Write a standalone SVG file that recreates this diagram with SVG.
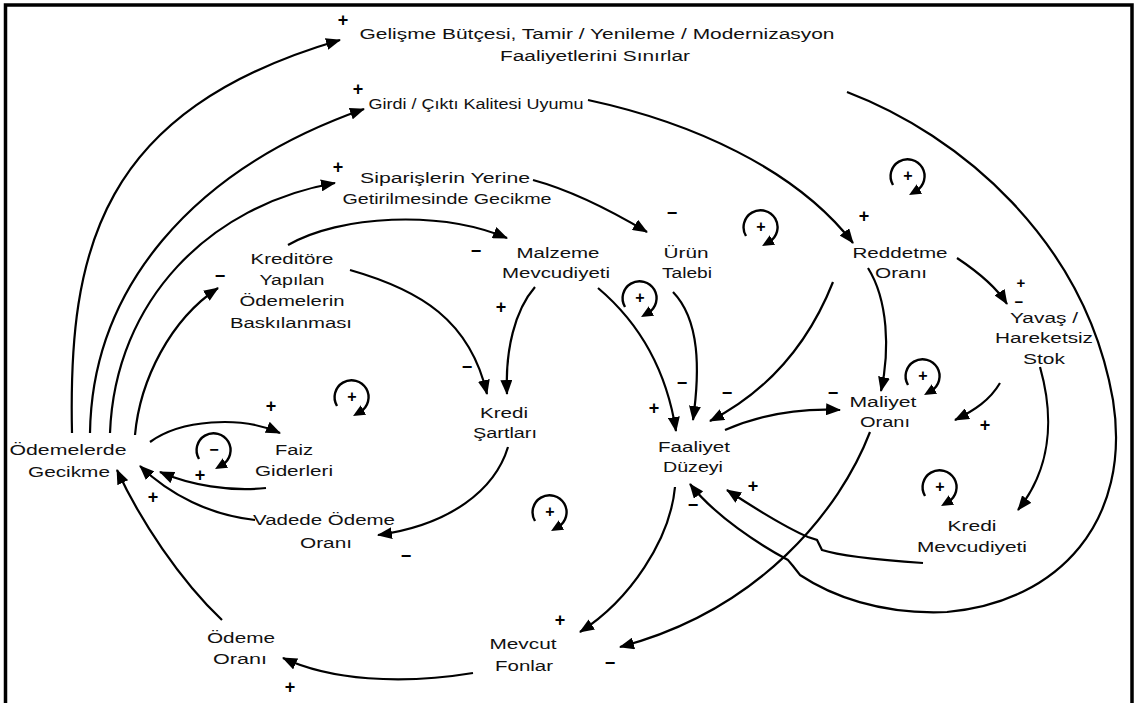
<svg xmlns="http://www.w3.org/2000/svg" xmlns:xlink="http://www.w3.org/1999/xlink" width="1136" height="703" viewBox="0 0 1136 703">
<defs>
<style>
.t{font-family:"Liberation Sans",Arial,sans-serif;font-size:15.5px;fill:#111;text-anchor:middle}
.s{font-family:"Liberation Sans",Arial,sans-serif;font-size:18px;font-weight:bold;fill:#000;text-anchor:middle}
.s2{font-family:"Liberation Sans",Arial,sans-serif;font-size:15px;font-weight:bold;fill:#000;text-anchor:middle}
.ls{font-family:"Liberation Sans",Arial,sans-serif;font-size:16px;font-weight:bold;fill:#000;text-anchor:middle}
.c{fill:none;stroke:#000;stroke-width:2.2;marker-end:url(#ah)}
.la{fill:none;stroke:#000;stroke-width:2.4;marker-end:url(#ahs)}
</style>
<marker id="ah" viewBox="0 0 15 12" refX="14" refY="6" markerWidth="15" markerHeight="12" markerUnits="userSpaceOnUse" orient="auto">
<path d="M0,0 L15,6 L0,12 z" fill="#000"/>
</marker>
<marker id="ahs" viewBox="0 0 12 11" refX="4" refY="5.5" markerWidth="12" markerHeight="11" markerUnits="userSpaceOnUse" orient="auto">
<path d="M0,0 L12,5.5 L0,11 z" fill="#000"/>
</marker>
<path id="loopArc" class="la" d="M-15,9 A17,17 0 1 1 8,15"/>
</defs>
<rect x="0" y="0" width="1136" height="703" fill="#fff"/>
<rect x="5.5" y="5" width="1126.5" height="720" fill="none" stroke="#000" stroke-width="3.5"/>

<g id="connectors">
<path class="c" d="M72,433 C68,250 100,110 340,40"/>
<path class="c" d="M90,433 C92,290 190,170 364,109"/>
<path class="c" d="M110,433 C115,300 210,205 335,183"/>
<path class="c" d="M135,435 C140,380 170,320 218,288"/>
<path class="c" d="M288,245 C340,215 440,210 507,238"/>
<path class="c" d="M533,180 C570,190 610,210 647,232"/>
<path class="c" d="M588,100 C690,122 795,168 853,243"/>
<path class="c" d="M847,92 C960,135 1085,240 1113,400 C1132,520 1060,602 947,612 C880,615 830,595 800,575 L793,566 L788,560 C760,545 715,516 690,484"/>
<path class="c" d="M923,563 C880,560 840,556 822,550 L817,540 L808,537 C780,525 750,505 727,490"/>
<path class="c" d="M833,282 C810,340 770,390 710,421"/>
<path class="c" d="M868,268 C888,300 890,350 881,391"/>
<path class="c" d="M957,258 C975,270 995,285 1007,304"/>
<path class="c" d="M1040,367 C1055,420 1050,470 1018,510"/>
<path class="c" d="M1000,383 C990,400 975,410 955,420"/>
<path class="c" d="M725,430 C760,415 800,408 840,410"/>
<path class="c" d="M535,287 C515,310 505,350 507,394"/>
<path class="c" d="M350,270 C420,290 470,320 487,394"/>
<path class="c" d="M598,288 C630,315 665,360 676,431"/>
<path class="c" d="M673,292 C700,320 700,370 693,420"/>
<path class="c" d="M150,442 C180,420 240,415 280,433"/>
<path class="c" d="M266,488 C230,492 190,485 160,472"/>
<path class="c" d="M255,520 C210,515 170,495 140,466"/>
<path class="c" d="M508,447 C495,490 450,525 378,535"/>
<path class="c" d="M222,620 C180,580 140,520 117,470"/>
<path class="c" d="M675,487 C670,540 630,600 580,632"/>
<path class="c" d="M473,673 C400,685 330,680 283,658"/>
<path class="c" d="M870,432 C840,510 760,610 620,647"/>
</g>

<g id="n-gelisme">
<text class="t" x="597" y="39" textLength="475" lengthAdjust="spacingAndGlyphs">Gelişme Bütçesi, Tamir / Yenileme / Modernizasyon</text>
<text class="t" x="595" y="61" textLength="190" lengthAdjust="spacingAndGlyphs">Faaliyetlerini Sınırlar</text>
</g>
<g id="n-girdi">
<text class="t" x="476" y="109" textLength="215" lengthAdjust="spacingAndGlyphs">Girdi / Çıktı Kalitesi Uyumu</text>
</g>
<g id="n-siparis">
<text class="t" x="445" y="183" textLength="170" lengthAdjust="spacingAndGlyphs">Siparişlerin Yerine</text>
<text class="t" x="447" y="204" textLength="209" lengthAdjust="spacingAndGlyphs">Getirilmesinde Gecikme</text>
</g>
<g id="n-kreditore">
<text class="t" x="292" y="264" textLength="83" lengthAdjust="spacingAndGlyphs">Kreditöre</text>
<text class="t" x="292" y="285" textLength="65" lengthAdjust="spacingAndGlyphs">Yapılan</text>
<text class="t" x="292" y="306" textLength="105" lengthAdjust="spacingAndGlyphs">Ödemelerin</text>
<text class="t" x="291" y="328" textLength="122" lengthAdjust="spacingAndGlyphs">Baskılanması</text>
</g>
<g id="n-malzeme">
<text class="t" x="558" y="258" textLength="83" lengthAdjust="spacingAndGlyphs">Malzeme</text>
<text class="t" x="556" y="278" textLength="108" lengthAdjust="spacingAndGlyphs">Mevcudiyeti</text>
</g>
<g id="n-urun">
<text class="t" x="686" y="258" textLength="45" lengthAdjust="spacingAndGlyphs">Ürün</text>
<text class="t" x="687" y="278" textLength="50" lengthAdjust="spacingAndGlyphs">Talebi</text>
</g>
<g id="n-reddetme">
<text class="t" x="900" y="258" textLength="95" lengthAdjust="spacingAndGlyphs">Reddetme</text>
<text class="t" x="901" y="278" textLength="52" lengthAdjust="spacingAndGlyphs">Oranı</text>
</g>
<g id="n-yavas">
<text class="t" x="1044" y="323" textLength="68" lengthAdjust="spacingAndGlyphs">Yavaş /</text>
<text class="t" x="1044" y="343" textLength="98" lengthAdjust="spacingAndGlyphs">Hareketsiz</text>
<text class="t" x="1044" y="364" textLength="42" lengthAdjust="spacingAndGlyphs">Stok</text>
</g>
<g id="n-maliyet">
<text class="t" x="883" y="407" textLength="67" lengthAdjust="spacingAndGlyphs">Maliyet</text>
<text class="t" x="885" y="427" textLength="50" lengthAdjust="spacingAndGlyphs">Oranı</text>
</g>
<g id="n-kredisart">
<text class="t" x="504" y="418" textLength="48" lengthAdjust="spacingAndGlyphs">Kredi</text>
<text class="t" x="505" y="438" textLength="64" lengthAdjust="spacingAndGlyphs">Şartları</text>
</g>
<g id="n-faaliyet">
<text class="t" x="694" y="452" textLength="72" lengthAdjust="spacingAndGlyphs">Faaliyet</text>
<text class="t" x="693" y="472" textLength="60" lengthAdjust="spacingAndGlyphs">Düzeyi</text>
</g>
<g id="n-faiz">
<text class="t" x="294" y="455" textLength="38" lengthAdjust="spacingAndGlyphs">Faiz</text>
<text class="t" x="294" y="476" textLength="78" lengthAdjust="spacingAndGlyphs">Giderleri</text>
</g>
<g id="n-odemelerde">
<text class="t" x="68" y="455" textLength="117" lengthAdjust="spacingAndGlyphs">Ödemelerde</text>
<text class="t" x="69" y="477" textLength="82" lengthAdjust="spacingAndGlyphs">Gecikme</text>
</g>
<g id="n-vadede">
<text class="t" x="324" y="525" textLength="142" lengthAdjust="spacingAndGlyphs">Vadede Ödeme</text>
<text class="t" x="326" y="548" textLength="52" lengthAdjust="spacingAndGlyphs">Oranı</text>
</g>
<g id="n-odeme">
<text class="t" x="241" y="643" textLength="68" lengthAdjust="spacingAndGlyphs">Ödeme</text>
<text class="t" x="240" y="664" textLength="54" lengthAdjust="spacingAndGlyphs">Oranı</text>
</g>
<g id="n-mevcut">
<text class="t" x="523" y="649" textLength="67" lengthAdjust="spacingAndGlyphs">Mevcut</text>
<text class="t" x="524" y="671" textLength="58" lengthAdjust="spacingAndGlyphs">Fonlar</text>
</g>
<g id="n-kredimev">
<text class="t" x="972" y="531" textLength="49" lengthAdjust="spacingAndGlyphs">Kredi</text>
<text class="t" x="972" y="552" textLength="110" lengthAdjust="spacingAndGlyphs">Mevcudiyeti</text>
</g>

<g id="polarities">
<text class="s" x="343" y="26">+</text>
<text class="s" x="358" y="95">+</text>
<text class="s" x="338" y="173">+</text>
<text class="s" x="672" y="219">−</text>
<text class="s" x="476" y="257">−</text>
<text class="s" x="220" y="282">−</text>
<text class="s" x="501" y="313">+</text>
<text class="s" x="467" y="373">−</text>
<text class="s" x="682" y="389">−</text>
<text class="s" x="727" y="399">−</text>
<text class="s" x="654" y="414">+</text>
<text class="s" x="833" y="399">−</text>
<text class="s" x="864" y="222">+</text>
<text class="s2" x="1021" y="288">+</text>
<text class="s2" x="1019" y="307">−</text>
<text class="s" x="985" y="431">+</text>
<text class="s" x="753" y="492">+</text>
<text class="s" x="693" y="511">−</text>
<text class="s" x="271" y="412">+</text>
<text class="s" x="200" y="481">+</text>
<text class="s" x="153" y="503">+</text>
<text class="s" x="406" y="562">−</text>
<text class="s" x="560" y="626">+</text>
<text class="s" x="610" y="669">−</text>
<text class="s" x="290" y="693">+</text>
</g>

<g id="loops">
<use xlink:href="#loopArc" href="#loopArc" x="908" y="176"/><text class="ls" x="908" y="181">+</text>
<use xlink:href="#loopArc" href="#loopArc" x="761" y="227"/><text class="ls" x="761" y="232">+</text>
<use xlink:href="#loopArc" href="#loopArc" x="640" y="298"/><text class="ls" x="640" y="303">+</text>
<use xlink:href="#loopArc" href="#loopArc" x="352" y="397"/><text class="ls" x="352" y="402">+</text>
<use xlink:href="#loopArc" href="#loopArc" x="214" y="450"/><text class="ls" x="214" y="455">−</text>
<use xlink:href="#loopArc" href="#loopArc" x="550" y="512"/><text class="ls" x="550" y="517">+</text>
<use xlink:href="#loopArc" href="#loopArc" x="923" y="376"/><text class="ls" x="923" y="381">+</text>
<use xlink:href="#loopArc" href="#loopArc" x="940" y="487"/><text class="ls" x="940" y="492">+</text>
</g>
</svg>
